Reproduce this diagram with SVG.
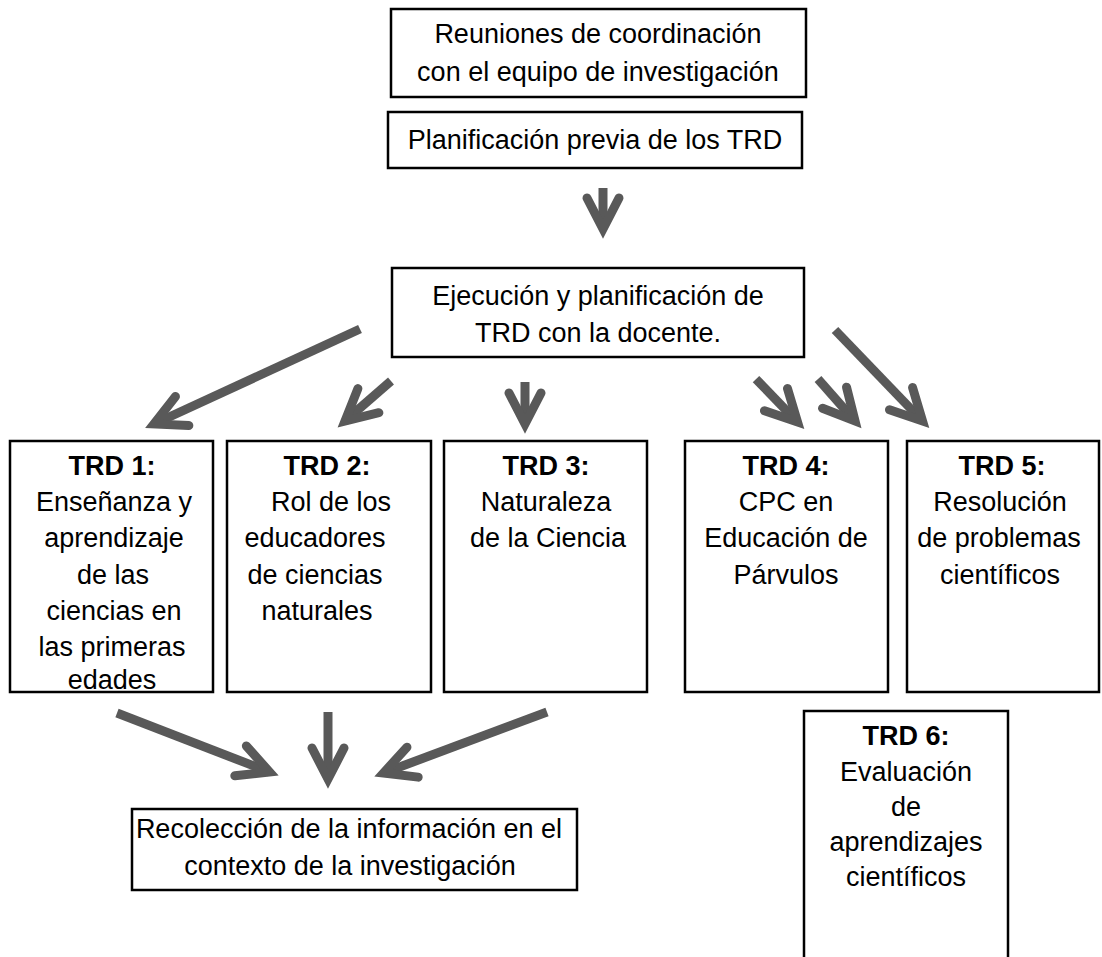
<svg xmlns="http://www.w3.org/2000/svg" width="1102" height="957" viewBox="0 0 1102 957">
<style>
  .box{fill:#fff;stroke:#000;stroke-width:2.5}
  text{font-family:"Liberation Sans",Arial,sans-serif;font-size:27px;fill:#000;text-anchor:middle}
  .b{font-weight:bold}
  .arr{fill:none;stroke:#595959;stroke-width:9;stroke-linecap:butt;marker-end:url(#ah)}
</style>
<defs>
  <marker id="ah" markerUnits="userSpaceOnUse" orient="auto" overflow="visible" markerWidth="1" markerHeight="1" refX="0" refY="0">
    <path d="M-31,-16 L0,0 L-31,16" fill="none" stroke="#595959" stroke-width="9" stroke-linecap="round" stroke-linejoin="miter"/>
  </marker>
</defs>
<rect width="1102" height="957" fill="#fff"/>

<g id="connectors">
  <path class="arr" d="M603,188 L603,229"/>
  <path class="arr" d="M360,329 L154,424"/>
  <path class="arr" d="M391,381 L345,421"/>
  <path class="arr" d="M525,382 L525,424"/>
  <path class="arr" d="M756,379 L797.5,422"/>
  <path class="arr" d="M818,379 L855,421"/>
  <path class="arr" d="M835,330 L922.5,421"/>
  <path class="arr" d="M117,713 L269.5,772"/>
  <path class="arr" d="M328,712 L328,779"/>
  <path class="arr" d="M547,712 L383.5,773"/>
</g>

<g id="reuniones">
  <rect class="box" x="391" y="9" width="415" height="88"/>
  <text x="598" y="43">Reuniones de coordinación</text>
  <text x="598" y="81">con el equipo de investigación</text>
</g>
<g id="planificacion">
  <rect class="box" x="388" y="112" width="414" height="56"/>
  <text x="595" y="149">Planificación previa de los TRD</text>
</g>
<g id="ejecucion">
  <rect class="box" x="392" y="268" width="412" height="89"/>
  <text x="598" y="305">Ejecución y planificación de</text>
  <text x="598" y="342">TRD con la docente.</text>
</g>
<g id="trd1">
  <rect class="box" x="10" y="441" width="203" height="251"/>
  <text class="b" x="112" y="475">TRD 1:</text>
  <text x="114" y="511">Enseñanza y</text>
  <text x="114" y="547">aprendizaje</text>
  <text x="113" y="584">de las</text>
  <text x="114" y="620">ciencias en</text>
  <text x="112" y="656">las primeras</text>
  <text x="112" y="689">edades</text>
</g>
<g id="trd2">
  <rect class="box" x="227" y="441" width="204" height="251"/>
  <text class="b" x="327" y="475">TRD 2:</text>
  <text x="331" y="511">Rol de los</text>
  <text x="315" y="547">educadores</text>
  <text x="315" y="584">de ciencias</text>
  <text x="317" y="620">naturales</text>
</g>
<g id="trd3">
  <rect class="box" x="444" y="441" width="203" height="251"/>
  <text class="b" x="546" y="475">TRD 3:</text>
  <text x="546" y="511">Naturaleza</text>
  <text x="548" y="547">de la Ciencia</text>
</g>
<g id="trd4">
  <rect class="box" x="685" y="441" width="203" height="251"/>
  <text class="b" x="786" y="475">TRD 4:</text>
  <text x="786" y="511">CPC en</text>
  <text x="786" y="547">Educación de</text>
  <text x="786" y="584">Párvulos</text>
</g>
<g id="trd5">
  <rect class="box" x="907" y="441" width="192" height="251"/>
  <text class="b" x="1002" y="475">TRD 5:</text>
  <text x="1000" y="511">Resolución</text>
  <text x="999" y="547">de problemas</text>
  <text x="1000" y="584">científicos</text>
</g>
<g id="trd6">
  <rect class="box" x="804" y="711" width="204" height="260"/>
  <text class="b" x="906" y="745">TRD 6:</text>
  <text x="906" y="781">Evaluación</text>
  <text x="906" y="816">de</text>
  <text x="906" y="851">aprendizajes</text>
  <text x="906" y="886">científicos</text>
</g>
<g id="recoleccion">
  <rect class="box" x="132" y="809" width="445" height="81"/>
  <text x="349" y="838">Recolección de la información en el</text>
  <text x="350" y="875">contexto de la investigación</text>
</g>
</svg>
